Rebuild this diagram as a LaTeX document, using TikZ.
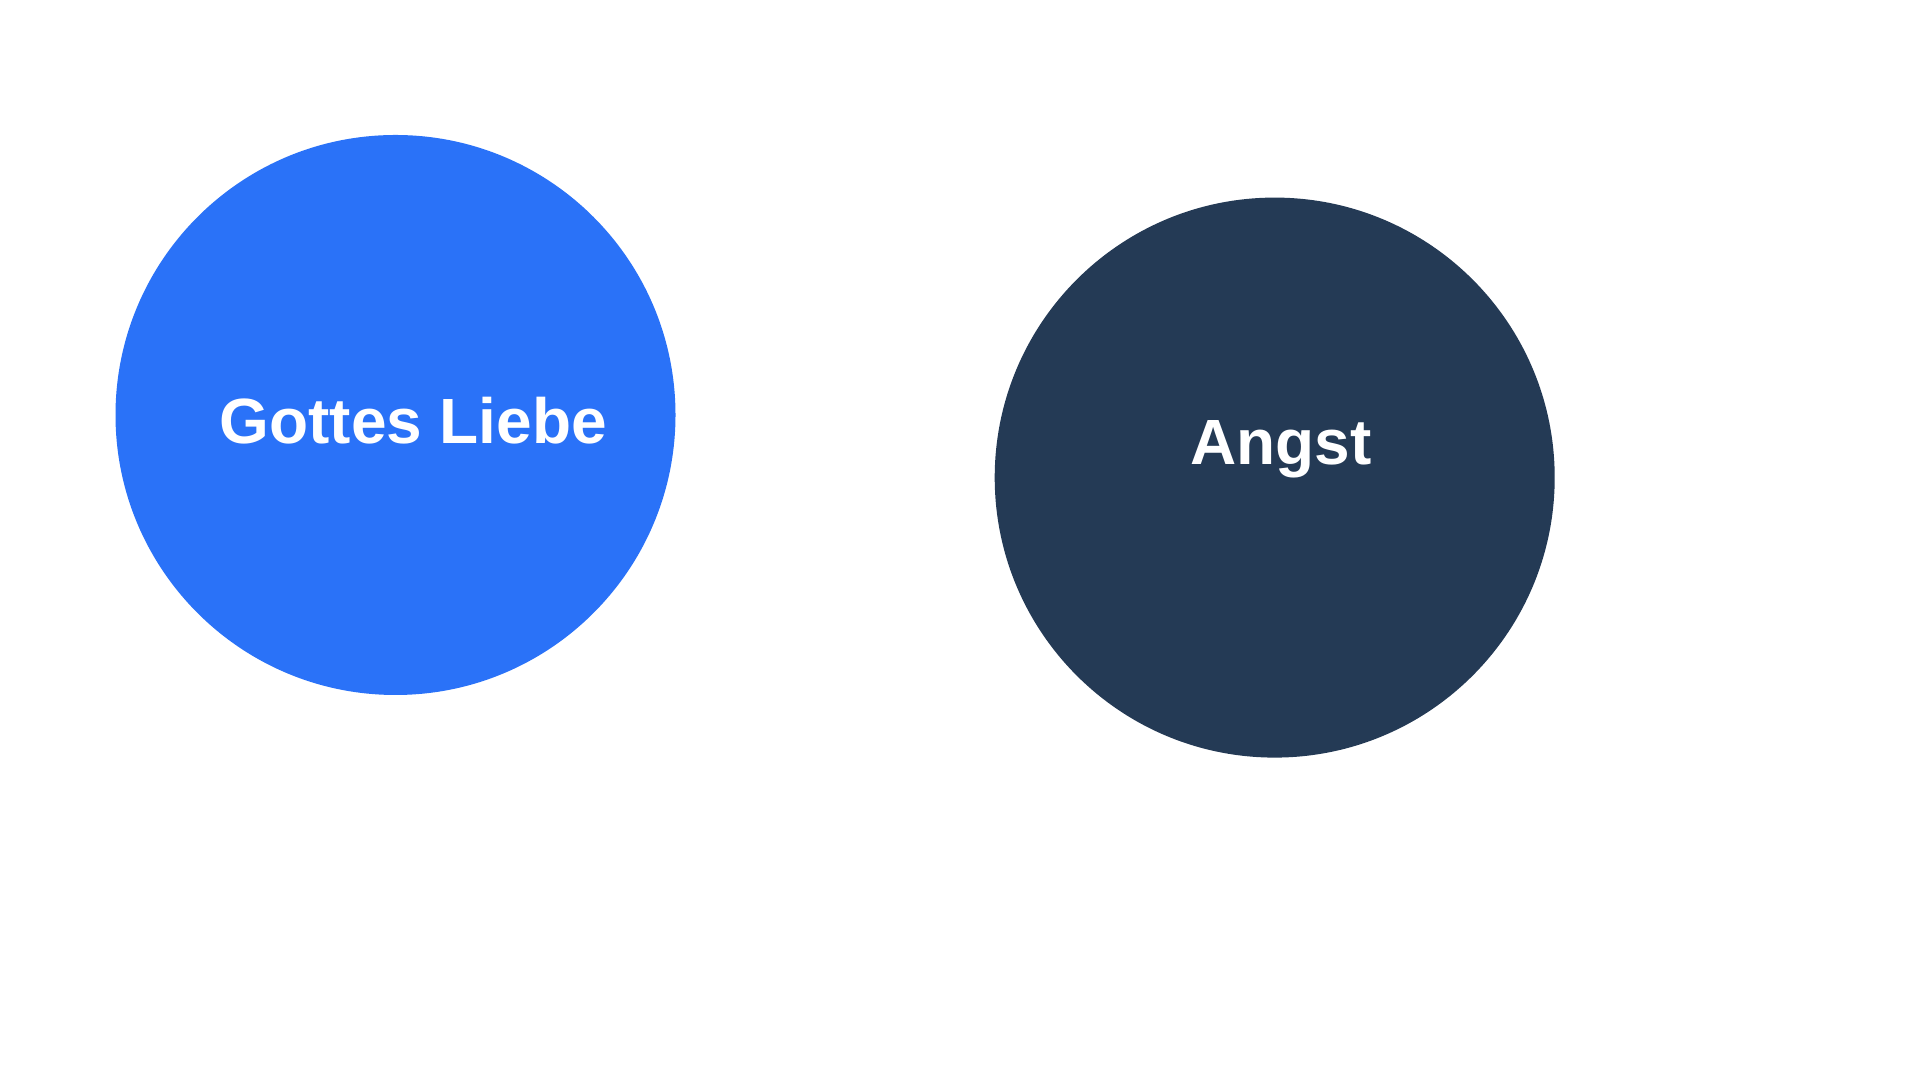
\documentclass[tikz,border=0pt]{standalone}
\usepackage{fontspec}
\setmainfont{Liberation Sans}
\definecolor{loveblue}{HTML}{2A72F8}
\definecolor{feardark}{HTML}{243A55}
\tikzset{
  bubble/.style={circle, minimum size=5.6cm, inner sep=0pt},
  bubbletext/.style={text=white, font=\fontsize{18.2pt}{21pt}\selectfont\bfseries, inner sep=0pt}
}
\begin{document}
\begin{tikzpicture}
\useasboundingbox (0,0) rectangle (19.2,10.8);
\fill[white] (0,0) rectangle (19.2,10.8);
\node[bubble, fill=loveblue] (love) at (3.955,6.65) {};
\node[bubble, fill=feardark] (fear) at (12.747,6.024) {};
\node[bubbletext] (lovetext) at (4.133,6.59) {Gottes Liebe};
\node[bubbletext] (feartext) at (12.808,6.31) {Angst};
\end{tikzpicture}
\end{document}
